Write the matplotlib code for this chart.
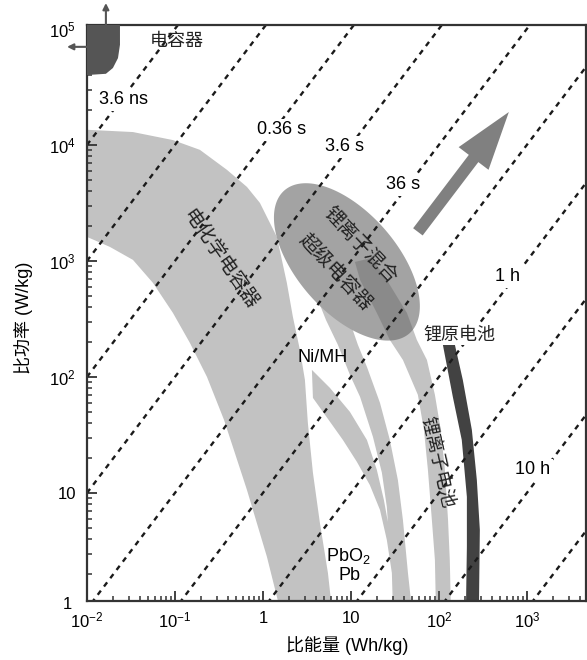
import matplotlib.pyplot as plt
import numpy as np
from matplotlib.ticker import LogLocator, NullFormatter

plt.rcParams['font.family'] = ['Liberation Sans', 'Noto Sans CJK SC']
plt.rcParams['mathtext.fontset'] = 'custom'
plt.rcParams['mathtext.rm'] = 'Liberation Sans'
plt.rcParams['mathtext.it'] = 'Liberation Sans:italic'
plt.rcParams['mathtext.bf'] = 'Liberation Sans:bold'

# Constant discharge-time guide lines (hours), P = E / t
line_hours = [1e-7, 1e-6, 1e-5, 1e-4, 1e-3, 1e-2, 1e-1, 1, 10, 100, 1000]
line_energy = [1e-3, 1e4]

# Region outlines: specific energy (Wh/kg) and specific power (W/kg)
cap_E = [0.01, 0.0237, 0.0237, 0.0225, 0.0197, 0.0164, 0.01]
cap_P = [1.2e5, 1.2e5, 7.3e4, 5.6e4, 4.6e4, 4.1e4, 4.0e4]

ec_E = [0.01, 0.0333, 0.0948, 0.192, 0.39, 0.658, 0.924, 1.44, 1.87, 2.19, 2.63, 3.0, 3.24, 3.7,
        4.44, 5.48, 6.08, 1.56, 1.11, 0.658, 0.361, 0.231, 0.148, 0.0948, 0.0562, 0.0333, 0.0182, 0.01]
ec_P = [13500, 12900, 11000, 9060, 6090, 4340, 3160, 1610, 646, 329, 171, 94.2, 40.1, 14.9,
        5.51, 2.04, 1.0, 1.0, 2.81, 10.6, 42.6, 100, 196, 356, 646, 1020, 1320, 1610]

# Ni/MH wedge joined with the PbO2/Pb band
pb_E = [3.60, 5.77, 9.75, 15.2, 19.7, 23.7, 26.3, 25.6, 22.5, 17.8, 12.7, 9.75, 7.11, 5.20, 4.22,
        7.50, 9.75, 12.0, 15.2, 21.4, 27.7, 34.2, 39.0, 44.5, 49.3, 30.0, 29.2, 25.6, 21.4, 16.4,
        11.7, 8.11, 4.81, 3.70]
pb_P = [115, 80.4, 49.9, 28.6, 15.8, 8.70, 5.62, 7.57, 14.9, 30.4, 67.3, 104, 189, 310, 461,
        480, 298, 189, 122, 59.7, 28.6, 12.9, 5.84, 2.04, 1.0, 1.0, 2.04, 3.93, 7.13, 11.7,
        18.5, 28.6, 49.9, 65.9]

li_E = [17.3, 25.6, 43.3, 56.2, 73.1, 90.1, 105, 117, 127, 133, 137,
        92.5, 90.1, 83.2, 75.0, 67.6, 57.7, 39.0, 27.7, 19.7, 12.7, 11.1]
li_P = [1060, 685, 356, 208, 140, 70.0, 34.9, 15.8, 5.84, 2.64, 1.0,
        1.0, 2.64, 5.84, 15.8, 34.9, 70.0, 140, 208, 356, 685, 980]

lp_E = [111, 130, 152, 187, 237, 270, 292, 285, 203, 208, 208, 182, 144]
lp_P = [189, 200, 189, 94.2, 34.9, 12.9, 4.80, 1.0, 1.0, 3.42, 9.25, 28.6, 67.3]

# Hybrid capacitor ellipse: centre and half-axes in decades (logE, logP)
hybrid_center = (9.0, 980)
hybrid_major = (0.711, -0.616)
hybrid_minor = (0.427, 0.284)

big_arrow_tail = (57.7, 1780)
big_arrow_head = (624, 19200)

time_labels = ['3.6 ns', '0.36 s', '3.6 s', '36 s', '1 h', '10 h']
time_label_E = [0.0257, 1.64, 8.56, 39, 608, 1170]
time_label_P = [24400, 13500, 9620, 4520, 728, 15.8]

x_ticks = [1e-2, 1e-1, 1, 10, 1e2, 1e3]
x_tick_labels = ['$10^{-2}$', '$10^{-1}$', '1', '10', '$10^2$', '$10^3$']
y_ticks = [10, 1e2, 1e3, 1e4, 1e5]
y_tick_labels = ['10', '$10^2$', '$10^3$', '$10^4$', '$10^5$']

fig = plt.figure(figsize=(5.87, 6.6), dpi=100)
ax = fig.add_axes([87 / 587, 59 / 660, 499 / 587, 576 / 660])
ax.set_xscale('log')
ax.set_yscale('log')
ax.set_xlim(0.01, 4700)
ax.set_ylim(1.17, 1.08e5)

# regions
ax.fill(ec_E, ec_P, color='#c2c2c2', lw=0, zorder=1)
ax.fill(pb_E, pb_P, color='#c2c2c2', lw=0, zorder=1)

t = np.linspace(0, 2 * np.pi, 200)
le = np.log10(hybrid_center[0]) + hybrid_major[0] * np.cos(t) + hybrid_minor[0] * np.sin(t)
lpw = np.log10(hybrid_center[1]) + hybrid_major[1] * np.cos(t) + hybrid_minor[1] * np.sin(t)
ax.fill(10 ** le, 10 ** lpw, color='#a3a3a3', lw=0, zorder=1.5)

ax.fill(li_E, li_P, color='#656565', alpha=0.39, lw=0, zorder=1.6)
ax.fill(lp_E, lp_P, color='#424242', lw=0, zorder=1.7)

# guide lines
E_line = np.array(line_energy)
for h in line_hours:
    ax.plot(E_line, E_line / h, color='#1a1a1a', lw=1.7, linestyle=(0, (2.2, 2.2)), zorder=2)

ax.fill(cap_E, cap_P, color='#555555', lw=0, zorder=3)

ax.annotate('', xy=big_arrow_head, xytext=big_arrow_tail,
            arrowprops=dict(arrowstyle='simple,head_length=4.2,head_width=2.7,tail_width=0.86',
                            mutation_scale=10, color='#808080', lw=0, shrinkA=0, shrinkB=0, zorder=3))

# small arrows at the top-left corner
ax.annotate('', xy=(0.0164, 1.67e5), xytext=(0.0164, 1.08e5), annotation_clip=False,
            arrowprops=dict(arrowstyle='-|>', mutation_scale=9, color='#555555', lw=1.5,
                            shrinkA=0, shrinkB=0))
ax.annotate('', xy=(0.00593, 7.0e4), xytext=(0.01, 7.0e4), annotation_clip=False,
            arrowprops=dict(arrowstyle='-|>', mutation_scale=9, color='#555555', lw=1.5,
                            shrinkA=0, shrinkB=0))

# labels
for lab, e, p in zip(time_labels, time_label_E, time_label_P):
    ax.text(e, p, lab, fontsize=13, ha='center', va='center', zorder=5,
            bbox=dict(facecolor='white', edgecolor='none', pad=2))

ax.text(0.105, 77300, '电容器', fontsize=13, color='#222222', ha='center', va='center', zorder=5)
ax.text(0.324, 1020, '电化学电容器', fontsize=14, color='#222222', rotation=-55,
        ha='center', va='center', rotation_mode='anchor', zorder=5)
ax.text(12.7, 1370, '锂离子混合', fontsize=14, color='#222222', rotation=-46.5,
        ha='center', va='center', rotation_mode='anchor', zorder=5)
ax.text(6.58, 803, '超级电容器', fontsize=14, color='#222222', rotation=-46.5,
        ha='center', va='center', rotation_mode='anchor', zorder=5)
ax.text(94.9, 18.5, '锂离子电池', fontsize=13.5, color='#222222', rotation=-77,
        ha='center', va='center', rotation_mode='anchor', zorder=5)
ax.text(173, 230, '锂原电池', fontsize=13, color='#222222', ha='center', va='center', zorder=5,
        bbox=dict(facecolor='white', edgecolor='none', pad=1))
ax.text(4.81, 146, 'Ni/MH', fontsize=13, ha='center', va='center', zorder=5)
ax.text(9.25, 2.87, 'PbO$_2$', fontsize=13, ha='center', va='center', zorder=5)
ax.text(9.75, 1.96, 'Pb', fontsize=13, ha='center', va='center', zorder=5)

# axes styling
ax.set_xticks(x_ticks)
ax.set_xticklabels(x_tick_labels)
ax.set_yticks(y_ticks)
ax.set_yticklabels(y_tick_labels)
ax.xaxis.set_minor_locator(LogLocator(base=10, subs=np.arange(2, 10), numticks=20))
ax.yaxis.set_minor_locator(LogLocator(base=10, subs=np.arange(2, 10), numticks=20))
ax.xaxis.set_minor_formatter(NullFormatter())
ax.yaxis.set_minor_formatter(NullFormatter())
ax.tick_params(which='both', direction='in', top=False, right=False, color='#333333', labelsize=12)
ax.tick_params(which='major', length=7, width=1.3)
ax.tick_params(which='minor', length=3.5, width=1.1)
ax.tick_params(axis='y', pad=8)
ax.tick_params(axis='x', pad=7)
for s in ax.spines.values():
    s.set_linewidth(1.6)
    s.set_color('#333333')
ax.text(-0.03, -0.006, '1', transform=ax.transAxes, fontsize=12, ha='right', va='center')

ax.set_xlabel('比能量 (Wh/kg)', fontsize=13)
ax.set_ylabel('比功率 (W/kg)', fontsize=13)
ax.xaxis.set_label_coords(0.521, -0.061)
ax.yaxis.set_label_coords(-0.108, 0.491)

fig.savefig('out.png', dpi=100)
